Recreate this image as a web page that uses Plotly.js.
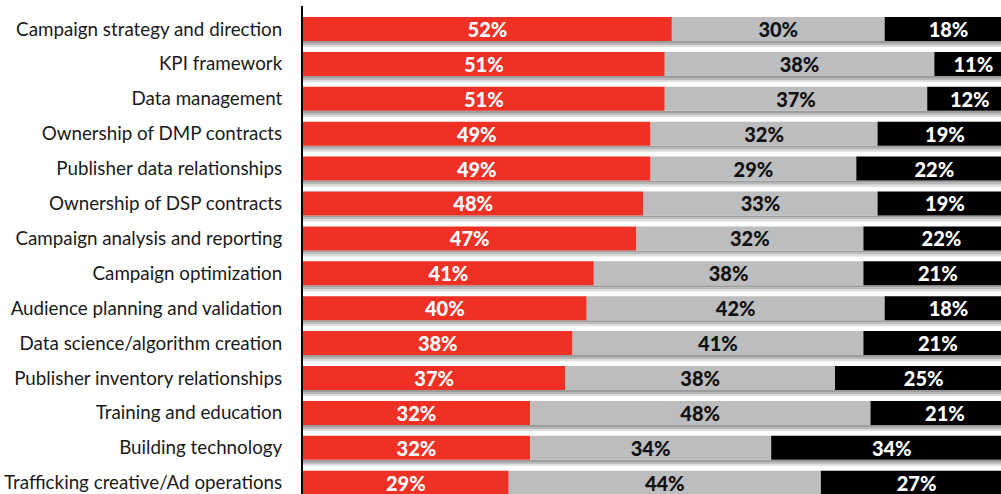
<!DOCTYPE html>
<html>
<head>
<meta charset="utf-8">
<script src="https://cdn.plot.ly/plotly-3.0.1.min.js"></script>
<style>html,body{margin:0;padding:0;background:#fff;}#chart{width:1001px;height:494px;}</style>
</head>
<body>
<div id="chart"></div>
<script>
const categories = [
  "Campaign strategy and direction",
  "KPI framework",
  "Data management",
  "Ownership of DMP contracts",
  "Publisher data relationships",
  "Ownership of DSP contracts",
  "Campaign analysis and reporting",
  "Campaign optimization",
  "Audience planning and validation",
  "Data science/algorithm creation",
  "Publisher inventory relationships",
  "Training and education",
  "Building technology",
  "Trafficking creative/Ad operations"
];
const redValues   = [52, 51, 51, 49, 49, 48, 47, 41, 40, 38, 37, 32, 32, 29];
const greyValues  = [30, 38, 37, 32, 29, 33, 32, 38, 42, 41, 38, 48, 34, 44];
const blackValues = [18, 11, 12, 19, 22, 19, 22, 21, 18, 21, 25, 21, 34, 27];

const greyBase = redValues.map(v => v);
const blackBase = redValues.map((v, i) => v + greyValues[i]);
const totals = blackBase.map((v, i) => v + blackValues[i]);
const pct = a => a.map(v => v + "%");

const BW = 0.688;
const labelFont = {family: "Lato, 'Open Sans', sans-serif", size: 20, weight: 900};

const shadowColors = ["#9c9c9c", "#b8b8b8", "#dcdcdc"];
const shadowTraces = shadowColors.map((c, k) => ({
  type: "bar", orientation: "h", y: categories, x: totals, base: 0,
  width: 0.06, offset: BW / 2 + k * 0.057,
  marker: {color: c, line: {width: 0}}, hoverinfo: "skip", showlegend: false
}));

const seg = (vals, base, color, txtColor) => ({
  type: "bar", orientation: "h", y: categories, x: vals, base: base,
  width: BW, offset: -BW / 2,
  marker: {color: color, line: {width: 0}},
  text: pct(vals), textposition: "inside", insidetextanchor: "middle",
  textangle: 0, constraintext: "none",
  textfont: Object.assign({color: txtColor}, labelFont),
  showlegend: false, hoverinfo: "skip"
});

const data = shadowTraces.concat([
  seg(redValues, 0, "#ee3124", "#ffffff"),
  seg(greyValues, greyBase, "#bcbdbf", "#111111"),
  seg(blackValues, blackBase, "#000000", "#ffffff")
]);

const layout = {
  width: 1001, height: 494,
  margin: {l: 303, r: 0, t: 6, b: 0, pad: 0},
  paper_bgcolor: "#ffffff", plot_bgcolor: "#ffffff",
  barmode: "overlay",
  uniformtext: {mode: false},
  xaxis: {range: [0, 98.4], showgrid: false, zeroline: false, showticklabels: false, showline: false, fixedrange: true},
  yaxis: {
    type: "category", categoryorder: "array", categoryarray: categories,
    range: [13.324, -0.659],
    showgrid: false, zeroline: false,
    showline: true, linecolor: "#000000", linewidth: 2,
    ticks: "", ticklabelstandoff: 15,
    tickfont: {family: "Lato, 'Open Sans', sans-serif", size: 18.8, color: "#1a1a1a"}
  }
};

Plotly.newPlot("chart", data, layout, {staticPlot: true, displayModeBar: false});
</script>
</body>
</html>
